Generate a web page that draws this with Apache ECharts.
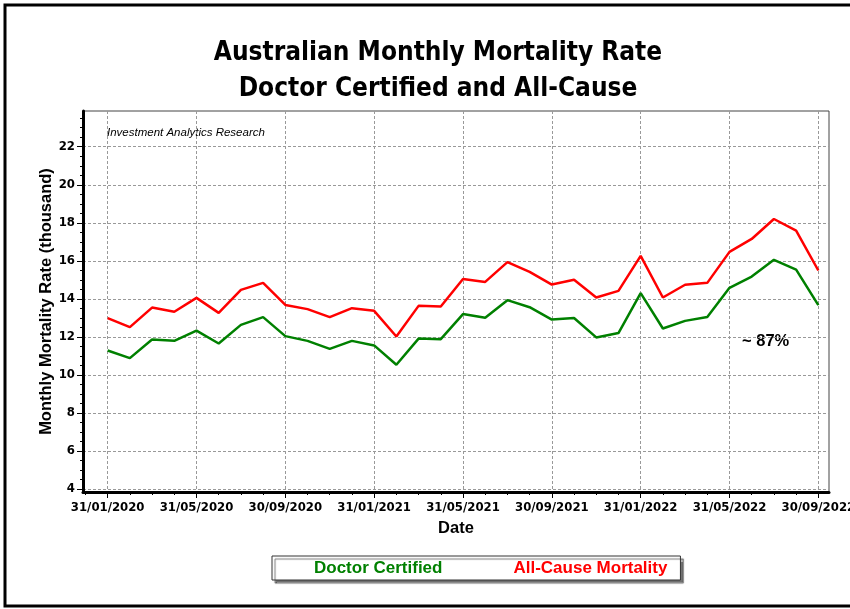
<!DOCTYPE html>
<html>
<head>
<meta charset="utf-8">
<title>Australian Monthly Mortality Rate</title>
<script src="https://cdn.jsdelivr.net/npm/echarts@6/dist/echarts.min.js"></script>
</head>
<body style="margin:0;background:#fff">
<div id="main" style="width:850px;height:609px;"></div>
<script>
// month-end dates, Jan 2020 .. Sep 2022
var dates = ['31/01/2020', '29/02/2020', '31/03/2020', '30/04/2020', '31/05/2020', '30/06/2020',
	'31/07/2020', '31/08/2020', '30/09/2020', '31/10/2020', '30/11/2020', '31/12/2020',
	'31/01/2021', '28/02/2021', '31/03/2021', '30/04/2021', '31/05/2021', '30/06/2021',
	'31/07/2021', '31/08/2021', '30/09/2021', '31/10/2021', '30/11/2021', '31/12/2021',
	'31/01/2022', '28/02/2022', '31/03/2022', '30/04/2022', '31/05/2022', '30/06/2022',
	'31/07/2022', '31/08/2022', '30/09/2022'];

// deaths per month (thousand)
var doctorCertified = [11.28, 10.88, 11.86, 11.79, 12.33, 11.65, 12.63, 13.04, 12.04, 11.79, 11.37, 11.79,
	11.55, 10.53, 11.91, 11.88, 13.20, 13.00, 13.93, 13.56, 12.91, 12.99, 11.97, 12.20,
	14.30, 12.44, 12.84, 13.04, 14.58, 15.17, 16.05, 15.54, 13.67];
var allCause = [12.99, 12.51, 13.54, 13.32, 14.05, 13.26, 14.47, 14.84, 13.68, 13.46, 13.04, 13.51,
	13.37, 12.02, 13.63, 13.60, 15.04, 14.89, 15.93, 15.42, 14.75, 15.00, 14.07, 14.42,
	16.26, 14.07, 14.74, 14.84, 16.47, 17.15, 18.20, 17.59, 15.49];

// tick positions (month index / thousand)
var xLabelMonths = [0, 4, 8, 12, 16, 20, 24, 28, 32];
var xMinorMonths = [];
for (var m = -1; m <= 32; m++) xMinorMonths.push(m);
var yLabels = [4, 6, 8, 10, 12, 14, 16, 18, 20, 22];
var yMinor = [];
for (var t = 4; t <= 23.5; t += 0.5) yMinor.push(t);

var xMin = -1.11, xMax = 32.48, yMin = 3.84, yMax = 23.88;

var tickFont = {
	fontFamily: 'DejaVu Sans Condensed',
	fontWeight: 'bold',
	fontSize: 13,
	color: '#000'
};
var nameFont = {
	fontFamily: 'Liberation Sans',
	fontWeight: 'bold',
	fontSize: 16.5,
	color: '#000'
};

var chart = echarts.init(document.getElementById('main'));
chart.setOption({
	animation: false,
	backgroundColor: '#fff',
	title: {
		text: 'Australian Monthly Mortality Rate\nDoctor Certified and All-Cause',
		left: 433,
		top: 30,
		textAlign: 'center',
		textStyle: {
			fontFamily: 'DejaVu Sans Condensed',
			fontWeight: 'bold',
			fontSize: 26,
			lineHeight: 36,
			color: '#000'
		}
	},
	legend: {
		left: 272,
		top: 556,
		data: [
			{name: 'Doctor Certified', textStyle: {color: '#008000'}},
			{name: 'All-Cause Mortality', textStyle: {color: '#ff0000'}}
		],
		icon: 'rect',
		itemWidth: 0,
		itemHeight: 0,
		itemGap: 66,
		padding: [3, 13, 3, 37],
		backgroundColor: '#fff',
		borderColor: '#333',
		borderWidth: 1,
		shadowColor: 'rgba(0,0,0,0.55)',
		shadowOffsetX: 3,
		shadowOffsetY: 3,
		shadowBlur: 1,
		selectedMode: false,
		textStyle: {
			fontFamily: 'Liberation Sans',
			fontWeight: 'bold',
			fontSize: 17,
			lineHeight: 18
		}
	},
	grid: {
		left: 83,
		right: 21,
		top: 111,
		bottom: 117,
		show: true,
		borderColor: '#444',
		borderWidth: 1,
		outerBoundsMode: 'none'
	},
	xAxis: [{
		type: 'value',
		position: 'bottom',
		min: xMin,
		max: xMax,
		name: 'Date',
		nameLocation: 'middle',
		nameGap: 28,
		nameTextStyle: nameFont,
		axisLine: {show: true, onZero: false, lineStyle: {color: '#000', width: 3}},
		axisTick: {show: true, customValues: xMinorMonths, length: 3, lineStyle: {color: '#000'}},
		axisLabel: {
			customValues: xLabelMonths,
			formatter: function(v) { return dates[v]; },
			margin: 9,
			fontFamily: tickFont.fontFamily,
			fontWeight: tickFont.fontWeight,
			fontSize: tickFont.fontSize,
			color: tickFont.color
		},
		splitLine: {show: false}
	}, {
		type: 'value',
		position: 'bottom',
		min: xMin,
		max: xMax,
		axisLine: {show: false, onZero: false},
		axisTick: {show: true, customValues: xLabelMonths, length: 6, lineStyle: {color: '#000'}},
		axisLabel: {show: false},
		splitLine: {show: true, lineStyle: {color: '#999', width: 1, type: [3, 2]}}
	}],
	yAxis: [{
		type: 'value',
		position: 'left',
		min: yMin,
		max: yMax,
		name: 'Monthly Mortality Rate (thousand)',
		nameLocation: 'middle',
		nameGap: 28,
		nameMoveOverlap: false,
		nameTextStyle: nameFont,
		axisLine: {show: true, onZero: false, lineStyle: {color: '#000', width: 3}},
		axisTick: {show: true, customValues: yMinor, length: 3, lineStyle: {color: '#000'}},
		axisLabel: {
			customValues: yLabels,
			margin: 8,
			fontFamily: tickFont.fontFamily,
			fontWeight: tickFont.fontWeight,
			fontSize: tickFont.fontSize,
			color: tickFont.color
		},
		splitLine: {show: false}
	}, {
		type: 'value',
		position: 'left',
		min: yMin,
		max: yMax,
		axisLine: {show: false, onZero: false},
		axisTick: {show: true, customValues: yLabels, length: 6, lineStyle: {color: '#000'}},
		axisLabel: {show: false},
		splitLine: {show: true, lineStyle: {color: '#999', width: 1, type: [3, 2]}}
	}],
	graphic: [{
		type: 'rect',
		shape: {x: 5, y: 5, width: 850, height: 601},
		style: {fill: null, stroke: '#000', lineWidth: 3},
		silent: true
	}, {
		type: 'text',
		x: 107,
		y: 133,
		style: {
			text: 'Investment Analytics Research',
			fontFamily: 'Liberation Sans',
			fontStyle: 'italic',
			fontSize: 11.5,
			fill: '#000',
			verticalAlign: 'middle'
		}
	}, {
		type: 'text',
		x: 742,
		y: 341,
		style: {
			text: '~ 87%',
			fontFamily: 'Liberation Sans',
			fontWeight: 'bold',
			fontSize: 16.5,
			fill: '#000',
			verticalAlign: 'middle'
		}
	}],
	series: [{
		name: 'Doctor Certified',
		type: 'line',
		xAxisIndex: 0,
		yAxisIndex: 0,
		symbol: 'none',
		color: '#008000',
		lineStyle: {width: 2.5, color: '#008000'},
		data: doctorCertified.map(function(v, i) { return [i, v]; })
	}, {
		name: 'All-Cause Mortality',
		type: 'line',
		xAxisIndex: 0,
		yAxisIndex: 0,
		symbol: 'none',
		color: '#ff0000',
		lineStyle: {width: 2.5, color: '#ff0000'},
		data: allCause.map(function(v, i) { return [i, v]; })
	}]
});
</script>
</body>
</html>
